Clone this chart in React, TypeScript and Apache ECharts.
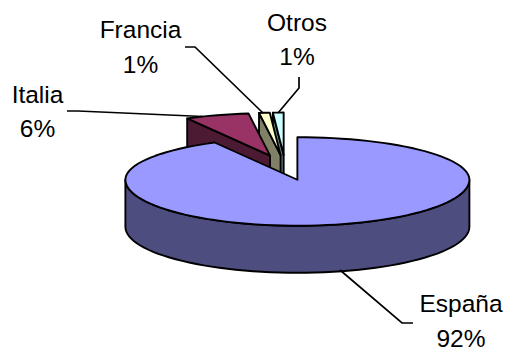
import React, { useEffect, useRef } from "react";
import * as echarts from "echarts";

const categories = ["España", "Italia", "Francia", "Otros"];
const shares = [92, 6, 1, 1];
const topColors = ["#9999FF", "#993366", "#FFFFCC", "#CCFFFF"];
const sideColors = ["#4D4D80", "#4D1A33", "#808066", "#668080"];

const CENTER = [285.2, 167.6];
const RX = 172;
const RY_BACK = 42.5;
const RY_FRONT = 46;
const DEPTH = 47;
const EXPLODE = 0.285;
const STEP = Math.PI / 60;
const LINE = 1.9;

const total = shares.reduce((a, b) => a + b, 0);

function project(cx: number, cy: number, t: number): number[] {
  const c = Math.cos(t);
  return [cx + RX * Math.sin(t), cy - (c > 0 ? RY_BACK : RY_FRONT) * c];
}

function arc(cx: number, cy: number, a: number, b: number): number[][] {
  const n = Math.max(1, Math.ceil((b - a) / STEP));
  const pts: number[][] = [];
  for (let i = 0; i <= n; i++) {
    const p = project(cx, cy, a + ((b - a) * i) / n);
    pts.push(p);
  }
  return pts;
}

function renderSlice(params: any, api: any) {
  const idx = categories.length - 1 - params.dataIndex;
  let start = 0;
  for (let i = 0; i < idx; i++) start += shares[i];
  const a0 = (start / total) * Math.PI * 2;
  const a1 = ((start + api.value(0)) / total) * Math.PI * 2;
  const mid = (a0 + a1) / 2;
  const cx = CENTER[0] + EXPLODE * RX * Math.sin(mid);
  const cy = CENTER[1] - EXPLODE * 44 * Math.cos(mid);
  const style = (fill: string) => ({ fill, stroke: "#000", lineWidth: LINE, lineJoin: "round" });
  const children: any[] = [];
  const down = (p: number[]) => [p[0], p[1] + DEPTH];

  // visible inner wall of the slice's left radial edge
  if (idx !== 0) {
    const rim = project(cx, cy, a0);
    children.push({
      type: "polygon",
      shape: { points: [rim, [cx, cy], down([cx, cy]), down(rim)] },
      style: style(sideColors[idx]),
    });
  }
  // outer wall on the front half
  const f0 = Math.max(a0, Math.PI / 2);
  const f1 = Math.min(a1, (Math.PI * 3) / 2);
  if (f1 > f0) {
    const rim = arc(cx, cy, f0, f1);
    children.push({
      type: "polygon",
      shape: { points: [...rim, ...rim.slice().reverse().map(down)] },
      style: style(sideColors[idx]),
    });
  }
  // top face
  children.push({
    type: "polygon",
    shape: { points: [[cx, cy], ...arc(cx, cy, a0, a1)] },
    style: style(topColors[idx]),
  });
  return { type: "group", children };
}

const FONT = '"Liberation Sans", Arial, sans-serif';
const labelPlaces = [
  { x: 461, y: 316, leader: [[340, 270], [402, 323], [413, 323]] },
  { x: 37.5, y: 106.5, leader: [[67, 111], [78, 111], [203, 116.5]] },
  { x: 140.5, y: 42, leader: [[185, 47], [195, 47], [263, 113]] },
  { x: 297, y: 34.5, leader: [[299, 77], [299, 88], [278, 113]] },
];
const LINE_GAP = 34.5;

export default function App() {
  const ref = useRef<HTMLDivElement>(null);
  useEffect(() => {
    const chart = echarts.init(ref.current!, undefined, { renderer: "svg" });
    const graphics: any[] = [];
    categories.forEach((name, i) => {
      const p = labelPlaces[i];
      graphics.push({
        type: "polyline",
        z: 10,
        shape: { points: p.leader },
        style: { stroke: "#000", lineWidth: 1.7, fill: "none" },
      });
      [name, `${shares[i]}%`].forEach((t, j) => {
        graphics.push({
          type: "text",
          z: 11,
          x: p.x,
          y: p.y + j * LINE_GAP,
          style: {
            text: t,
            font: `24.5px ${FONT}`,
            fill: "#000",
            textAlign: "center",
            textVerticalAlign: "bottom",
          },
        });
      });
    });
    chart.setOption({
      animation: false,
      backgroundColor: "#fff",
      graphic: graphics,
      series: [
        {
          type: "custom",
          coordinateSystem: "none",
          renderItem: renderSlice,
          data: shares.slice().reverse().map((v) => [v]),
          silent: true,
          clip: false,
        },
      ],
    });
    return () => chart.dispose();
  }, []);
  return <div ref={ref} style={{ position: "fixed", left: 0, top: 0, width: 507, height: 351 }} />;
}
